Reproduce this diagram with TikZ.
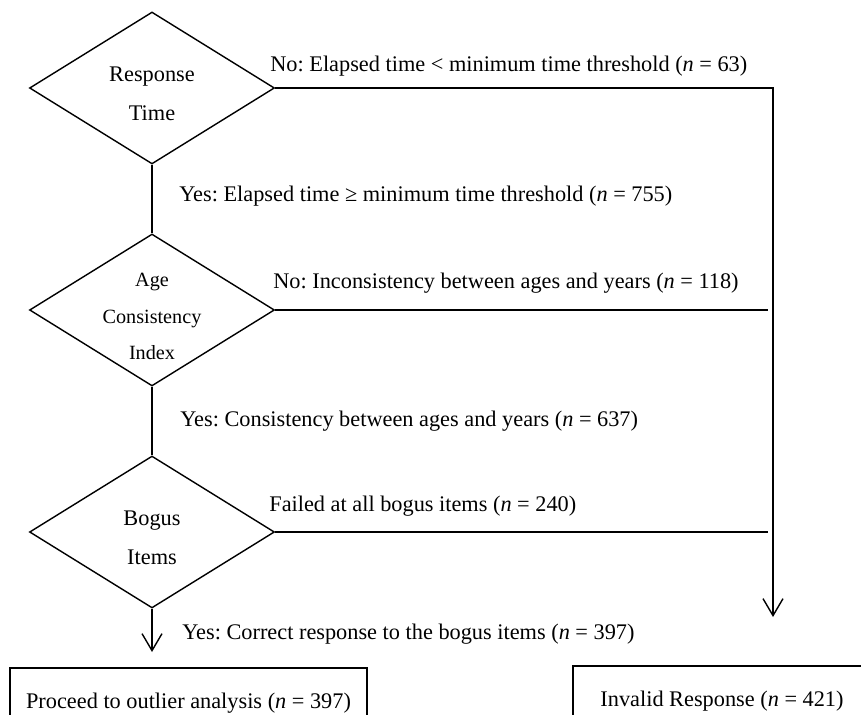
\documentclass[tikz,border=0pt]{standalone}
\usepackage{fontspec}
\setmainfont{Liberation Serif}
\usetikzlibrary{shapes.geometric}
\usetikzlibrary{arrows.meta}
\frenchspacing
\newcommand{\toplift}{\rule{0pt}{15pt}}

\begin{document}
\begin{tikzpicture}[x=0.02cm,y=-0.02cm,
    font=\fontsize{12.7}{14}\selectfont,
    check/.style={draw,thick,diamond,aspect=1.6,inner sep=0pt,
      minimum width=4.9cm,minimum height=3.04cm,align=center},
    result/.style={draw,thick,rectangle,minimum height=1.4cm},
    cond/.style={anchor=west,inner sep=0pt},
    flow/.style={thick},
    outflow/.style={thick,-{Straight Barb[length=3.4mm,width=4mm]}}]
    \useasboundingbox (0,0) rectangle (861,715);
    \node[check] (time) at (152,88) {\toplift Response\\[8pt]Time};
    \node[check,inner sep=-5pt,font=\fontsize{11.5}{14}\selectfont] (age) at (152,310) {\toplift Age\\[7pt]Consistency\\[7pt]Index};
    \node[check] (bogus) at (152,532) {\toplift Bogus\\[8pt]Items};
    \node[result,minimum width=7.14cm] (proceed) at (188.5,703) {Proceed to outlier analysis (\textit{n} = 397)};
    \node[result,minimum width=5.96cm] (invalid) at (722,701) {Invalid Response (\textit{n} = 421)};
    \coordinate (corner) at (773,88);
    \coordinate (agejoin) at (768,310);
    \coordinate (bogusjoin) at (768,532);
    \coordinate (invalidin) at (773,617);
    \coordinate (proceedin) at (152,652);
    \draw[flow] (time.south) -- (age.north);
    \draw[flow] (age.south) -- (bogus.north);
    \draw[outflow] (bogus.south) -- (proceedin);
    \draw[outflow] (time.east) -- (corner) -- (invalidin);
    \draw[flow] (age.east) -- (agejoin);
    \draw[flow] (bogus.east) -- (bogusjoin);
    \node[cond] (timeno) at (270,66) {No: Elapsed time < minimum time threshold (\textit{n} = 63)};
    \node[cond] (timeyes) at (179,196) {Yes: Elapsed time ≥ minimum time threshold (\textit{n} = 755)};
    \node[cond] (ageno) at (273,283) {No: Inconsistency between ages and years (\textit{n} = 118)};
    \node[cond] (ageyes) at (180,421) {Yes: Consistency between ages and years (\textit{n} = 637)};
    \node[cond] (bogusno) at (269,506) {Failed at all bogus items (\textit{n} = 240)};
    \node[cond] (bogusyes) at (182,634) {Yes: Correct response to the bogus items (\textit{n} = 397)};
  \end{tikzpicture}
\end{document}
